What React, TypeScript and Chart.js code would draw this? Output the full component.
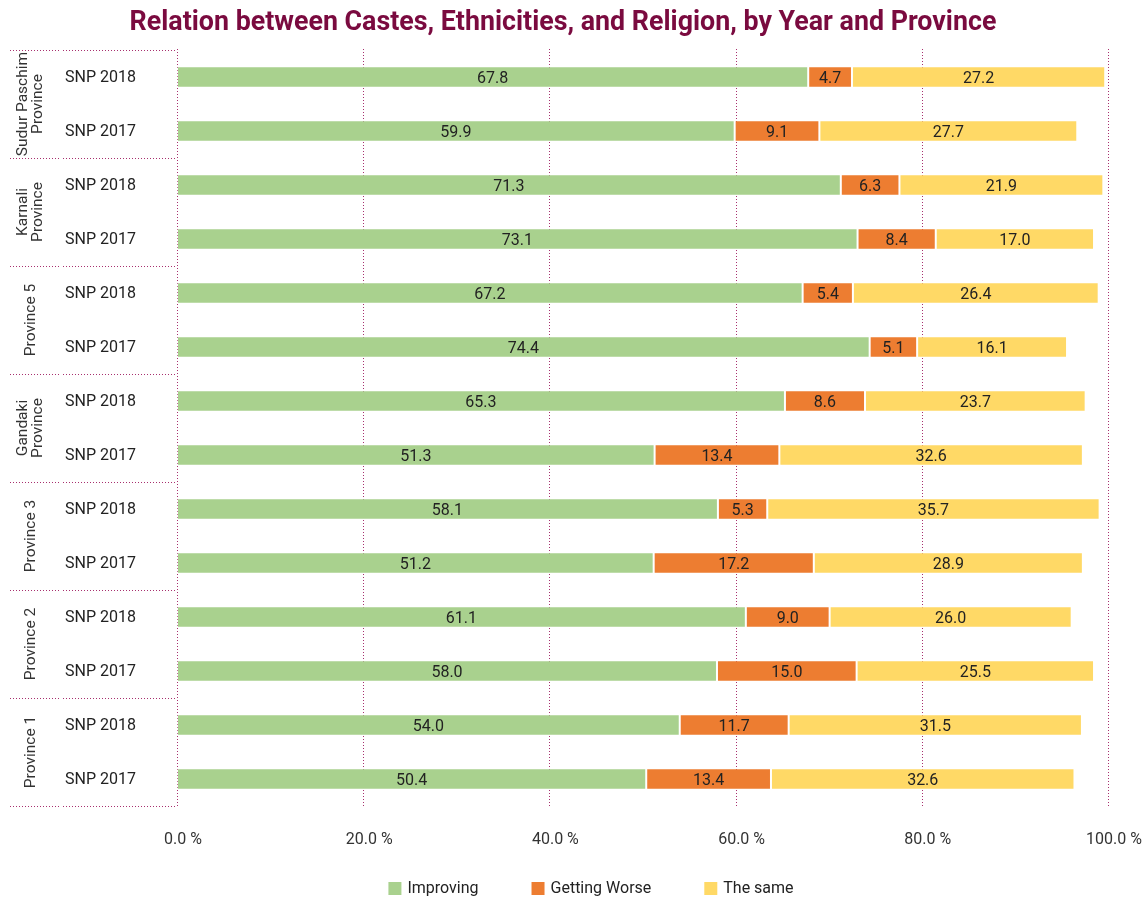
import React, { useEffect, useRef } from "react";
import { Chart, registerables } from "chart.js";

Chart.register(...registerables);

// Rows top to bottom: each province has an SNP 2018 and an SNP 2017 survey bar
const provinces = [
  ["Sudur Paschim", "Province"],
  ["Karnali", "Province"],
  ["Province 5"],
  ["Gandaki", "Province"],
  ["Province 3"],
  ["Province 2"],
  ["Province 1"],
];
const years = ["SNP 2018", "SNP 2017"];
const categories = provinces.flatMap((p) => years.map((y) => `${p.join(" ")} ${y}`));

const improving = [67.8, 59.9, 71.3, 73.1, 67.2, 74.4, 65.3, 51.3, 58.1, 51.2, 61.1, 58.0, 54.0, 50.4];
const gettingWorse = [4.7, 9.1, 6.3, 8.4, 5.4, 5.1, 8.6, 13.4, 5.3, 17.2, 9.0, 15.0, 11.7, 13.4];
const theSame = [27.2, 27.7, 21.9, 17.0, 26.4, 16.1, 23.7, 32.6, 35.7, 28.9, 26.0, 25.5, 31.5, 32.6];

const xTicks = [0, 20, 40, 60, 80, 100];

const seriesNames = ["Improving", "Getting Worse", "The same"];
const seriesColors = ["#A9D18E", "#ED7D31", "#FFD966"];

const TITLE = "Relation between Castes, Ethnicities, and Religion, by Year and Province";
const MAROON = "#A8306E";
const FONT = "Roboto, 'Noto Sans', sans-serif";

// dotted vertical grid at each tick of the value axis
const dottedGrid = {
  id: "dottedGrid",
  beforeDatasetsDraw(chart: any) {
    const { ctx, chartArea } = chart;
    const xScale = chart.scales.x;
    ctx.save();
    ctx.strokeStyle = MAROON;
    ctx.lineWidth = 1;
    ctx.setLineDash([1, 2]);
    xTicks.forEach((v) => {
      const x = Math.round(xScale.getPixelForValue(v)) + 0.5;
      ctx.beginPath();
      ctx.moveTo(x, chartArea.top - 1);
      ctx.lineTo(x, chartArea.bottom + 1);
      ctx.stroke();
    });
    ctx.restore();
  },
};

const decorations = {
  id: "decorations",
  afterDatasetsDraw(chart: any) {
    const { ctx } = chart;

    // value labels centred in each stacked segment
    ctx.save();
    ctx.font = `16px ${FONT}`;
    ctx.fillStyle = "#222";
    ctx.textAlign = "center";
    ctx.textBaseline = "middle";
    chart.data.datasets.forEach((ds: any, di: number) => {
      const meta = chart.getDatasetMeta(di);
      meta.data.forEach((el: any, i: number) => {
        const v = ds.data[i];
        ctx.fillText(v.toFixed(1), (el.x + el.base) / 2, el.y + 2);
      });
    });
    ctx.restore();
  },
  afterDraw(chart: any) {
    const { ctx, chartArea } = chart;
    const yScale = chart.scales.y;
    const rowH = (chartArea.bottom - chartArea.top) / categories.length;

    ctx.save();
    // title
    ctx.font = `bold 26.8px ${FONT}`;
    ctx.fillStyle = "#7A0A3F";
    ctx.textAlign = "center";
    ctx.textBaseline = "middle";
    ctx.fillText(TITLE, 563, 23);

    // group separators on the category axis
    ctx.strokeStyle = MAROON;
    ctx.lineWidth = 1;
    ctx.setLineDash([1, 2]);
    for (let g = 0; g <= provinces.length; g++) {
      const y = Math.round(chartArea.top + g * 2 * rowH) + 0.5;
      ctx.beginPath();
      ctx.moveTo(10, y);
      ctx.lineTo(61, y);
      ctx.moveTo(63, y);
      ctx.lineTo(chartArea.left, y);
      ctx.stroke();
    }
    ctx.setLineDash([]);

    // inner labels: survey year
    ctx.font = `16px ${FONT}`;
    ctx.fillStyle = "#222";
    ctx.textAlign = "left";
    ctx.textBaseline = "middle";
    categories.forEach((_, i) => {
      ctx.fillText(years[i % 2], 65, yScale.getPixelForValue(i) + 1);
    });

    // outer labels: province, rotated
    ctx.font = `15.5px ${FONT}`;
    ctx.fillStyle = "#333";
    ctx.textAlign = "center";
    provinces.forEach((lines, g) => {
      const yc = (yScale.getPixelForValue(2 * g) + yScale.getPixelForValue(2 * g + 1)) / 2;
      ctx.save();
      ctx.translate(31, yc);
      ctx.rotate(-Math.PI / 2);
      const lh = 15;
      lines.forEach((t, k) => {
        ctx.fillText(t, 0, (k - (lines.length - 1) / 2) * lh);
      });
      ctx.restore();
    });

    // legend
    ctx.font = `16px ${FONT}`;
    ctx.textBaseline = "middle";
    ctx.textAlign = "left";
    const box = 13;
    const gap = 6;
    const spacing = 53;
    const widths = seriesNames.map((n) => box + gap + ctx.measureText(n).width);
    const total = widths.reduce((a, b) => a + b, 0) + spacing * (seriesNames.length - 1);
    let x = 591 - total / 2;
    const ly = 888;
    seriesNames.forEach((n, i) => {
      ctx.fillStyle = seriesColors[i];
      ctx.fillRect(x, ly - 6, box, box);
      ctx.fillStyle = "#222";
      ctx.fillText(n, x + box + gap, ly + 1);
      x += widths[i] + spacing;
    });
    ctx.restore();
  },
};

export default function App() {
  const ref = useRef<HTMLCanvasElement>(null);

  useEffect(() => {
    const canvas = ref.current;
    if (!canvas) return;
    const chart = new Chart(canvas, {
      type: "bar",
      data: {
        labels: categories,
        datasets: [improving, gettingWorse, theSame].map((d, i) => ({
          label: seriesNames[i],
          data: d,
          backgroundColor: seriesColors[i],
          borderColor: "rgba(255,255,255,0.3)",
          borderWidth: 1,
          borderSkipped: false,
          barPercentage: 0.5,
          categoryPercentage: 0.8,
        })),
      },
      options: {
        indexAxis: "y",
        animation: false,
        responsive: false,
        maintainAspectRatio: false,
        layout: { padding: { left: 177, top: 50, right: 37, bottom: 0 } },
        plugins: {
          legend: { display: false },
          title: { display: false },
          tooltip: { enabled: false },
        },
        scales: {
          x: {
            stacked: true,
            min: 0,
            max: 100,
            afterBuildTicks(scale: any) {
              scale.ticks = xTicks.map((v) => ({ value: v }));
            },
            afterFit(scale: any) {
              scale.height = 92;
              scale.paddingLeft = 0;
              scale.paddingRight = 0;
            },
            border: { display: false },
            grid: { display: false, drawTicks: false },
            ticks: {
              padding: 24,
              labelOffset: 6,
              color: "#333",
              font: { family: FONT, size: 16 },
              callback: (v: any) => `${Number(v).toFixed(1)} %`,
            },
          },
          y: {
            stacked: true,
            display: false,
          },
        },
      },
      plugins: [dottedGrid, decorations],
    } as any);
    return () => chart.destroy();
  }, []);

  return (
    <div style={{ position: "fixed", left: 0, top: 0, width: 1145, height: 898, background: "#fff" }}>
      <canvas ref={ref} width={1145} height={898} style={{ width: 1145, height: 898 }} />
    </div>
  );
}
